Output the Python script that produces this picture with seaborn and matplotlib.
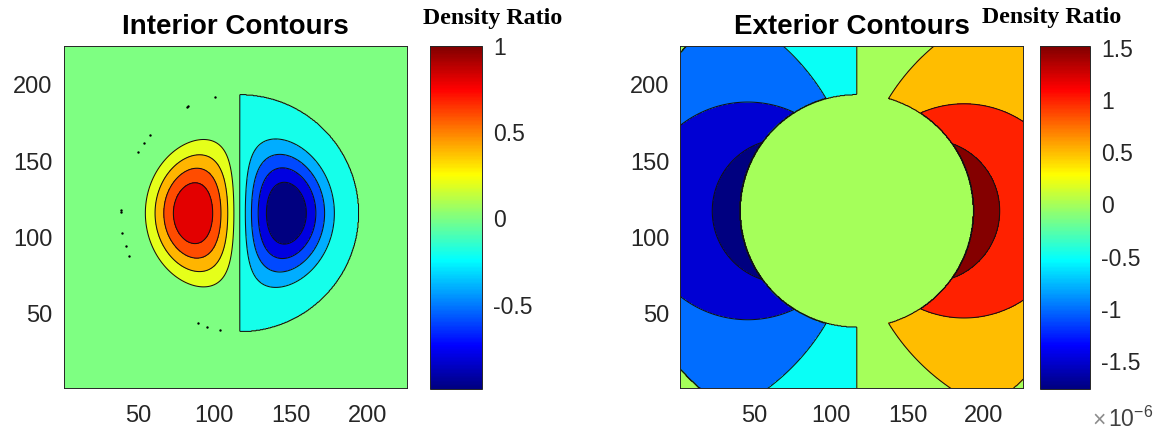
import numpy as np
import matplotlib
matplotlib.use("Agg")
import matplotlib.pyplot as plt
import seaborn as sns
from matplotlib.colors import Normalize, ListedColormap
from matplotlib.cm import ScalarMappable

# ---- grid (pixel index of the original field) ----
GRID_MIN, GRID_MAX = 1, 226
AXIS_LIM = (1.5, 225.5)
AXIS_TICKS = [50, 100, 150, 200]
ZERO = 0.002  # "zero" regions sit just inside the [0, next) band

# ---- interior panel ----
INT_CENTER = (116.5, 116.0)
INT_RADIUS = 77.5
INT_LOBE_EXP = 2.8
INT_RIGHT_OFFSET = -0.01
INT_LEVELS = [-1.2, -0.8, -0.6, -0.4, -0.2, 0.0, 0.2, 0.4, 0.6, 0.8, 1.2]
INT_CLIM = (-0.99, 1.0)
INT_CBAR_TICKS = [-0.5, 0, 0.5, 1]
# stray one-pixel contours along the left rim
DOT_X = [100.7, 82.0, 83.0, 58.0, 54.3, 50.0, 39.0, 39.0, 40.0, 42.0, 44.0, 89.0, 95.0, 103.7]
DOT_Y = [192.0, 185.5, 186.0, 167.0, 162.0, 156.0, 116.5, 118.0, 103.0, 94.7, 88.0, 44.0, 41.5, 39.5]

# ---- exterior panel (values x 1e-6) ----
EXT_CENTER = (116.8, 117.5)
EXT_RADIUS = 76.3
EXT_STRENGTH = 140.0
EXT_OUTER = 155.0
EXT_LEFT_OFFSET = -0.02
EXT_LEVELS = [-3.0, -1.5, -1.0, -0.5, 0.0, 0.5, 1.0, 1.5, 3.0]
EXT_CLIM = (-1.77, 1.52)
EXT_CBAR_TICKS = [-1.5, -1, -0.5, 0, 0.5, 1, 1.5]

sns.set_theme(style="white")
plt.rcParams["font.family"] = ["Liberation Sans", "DejaVu Sans"]
plt.rcParams["axes.unicode_minus"] = False
plt.rcParams["mathtext.fontset"] = "custom"
plt.rcParams["mathtext.rm"] = "Liberation Sans"

# MATLAB-style jet (slightly different from matplotlib's)
t = np.linspace(0, 1, 256)
jet_rgb = np.stack([np.clip(np.minimum(4 * t - 1.5, -4 * t + 4.5), 0, 1),
                    np.clip(np.minimum(4 * t - 0.5, -4 * t + 3.5), 0, 1),
                    np.clip(np.minimum(4 * t + 0.5, -4 * t + 2.5), 0, 1)], axis=1)
jet = ListedColormap(jet_rgb, name="matlab_jet")

g = np.linspace(GRID_MIN, GRID_MAX, 601)
X, Y = np.meshgrid(g, g)

# interior field: antisymmetric lobes inside the disk
dx = X - INT_CENTER[0]
dy = Y - INT_CENTER[1]
rho2 = (dx**2 + dy**2) / INT_RADIUS**2
rho_m = 1 / np.sqrt(1 + 2 * INT_LOBE_EXP)
peak = rho_m * (1 - rho_m**2) ** INT_LOBE_EXP
lobe = -(dx / INT_RADIUS) * np.clip(1 - rho2, 0, None) ** INT_LOBE_EXP / peak
Z_int = np.where(rho2 < 1, lobe + np.where(dx > 0, INT_RIGHT_OFFSET, 0), 0) + ZERO

# exterior field: dipole outside the disk
ex = X - EXT_CENTER[0]
ey = Y - EXT_CENTER[1]
r2 = ex**2 + ey**2
r = np.sqrt(r2)
dip = EXT_STRENGTH * ex / r2 + np.where(ex < 0, EXT_LEFT_OFFSET, 0)
Z_ext = np.where((r > EXT_RADIUS) & (r < EXT_OUTER), dip, 0) + ZERO

W, H = 1157, 437
fig = plt.figure(figsize=(W / 100, H / 100), dpi=100)


def px_rect(x0, x1, y0, y1):
    return [x0 / W, 1 - y1 / H, (x1 - x0) / W, (y1 - y0) / H]


def draw_panel(ax_rect, cb_rect, Z, levels, clim, cb_ticks, title):
    ax = fig.add_axes(px_rect(*ax_rect))
    norm = Normalize(*clim)
    # each band takes the colour of its lower level, as in MATLAB's contourf
    band_colors = [jet(norm(max(lv, clim[0]))) for lv in levels[:-1]]
    ax.contourf(X, Y, Z, levels=levels, colors=band_colors)
    ax.contour(X, Y, Z, levels=levels[1:-1], colors="#111111", linewidths=0.75,
               linestyles="solid")
    ax.set_xlim(*AXIS_LIM)
    ax.set_ylim(*AXIS_LIM)
    ax.set_xticks(AXIS_TICKS)
    ax.set_yticks(AXIS_TICKS)
    ax.tick_params(direction="in", length=3, width=0.6, top=True, right=True,
                   labelsize=17, colors="#262626")
    ax.tick_params(axis="x", pad=12.5)
    ax.tick_params(axis="y", pad=8)
    for s in ax.spines.values():
        s.set_color("#262626")
        s.set_linewidth(0.7)
    ax.set_title(title, fontsize=20, fontweight="bold", pad=9, color="black")

    cax = fig.add_axes(px_rect(*cb_rect))
    cb = fig.colorbar(ScalarMappable(norm=norm, cmap=jet), cax=cax, ticks=cb_ticks)
    cb.ax.set_yticklabels([f"{v:g}" for v in cb_ticks])
    cax.tick_params(direction="in", length=3, width=0.6, labelsize=16.5, pad=8,
                    colors="#262626")
    cb.outline.set_edgecolor("#262626")
    cb.outline.set_linewidth(0.7)
    return ax


ax1 = draw_panel((63.5, 406.7, 46, 388), (429.6, 482.2, 46, 389),
                 Z_int, INT_LEVELS, INT_CLIM, INT_CBAR_TICKS, "Interior Contours")
ax1.scatter(DOT_X, DOT_Y, s=3, color="black", linewidths=0, zorder=5)

ax2 = draw_panel((680.4, 1023, 46, 388), (1039.6, 1090.3, 46, 389),
                 Z_ext, EXT_LEVELS, EXT_CLIM, EXT_CBAR_TICKS, "Exterior Contours")

fig.text(492.6 / W, 1 - 24 / H, "Density Ratio", ha="center", va="baseline",
         family=["Liberation Serif", "DejaVu Serif"], weight="bold", size=17.2, color="black")
fig.text(1051.5 / W, 1 - 23 / H, "Density Ratio", ha="center", va="baseline",
         family=["Liberation Serif", "DejaVu Serif"], weight="bold", size=17.2, color="black")
fig.text(1092 / W, 1 - 427 / H, "×", ha="left", va="baseline",
         fontsize=16.5, color="#8c8c8c")
fig.text(1108 / W, 1 - 427 / H, r"$10^{-6}$", ha="left", va="baseline",
         fontsize=16.5, color="#404040")

fig.savefig("out.png", dpi=100, facecolor="white")
